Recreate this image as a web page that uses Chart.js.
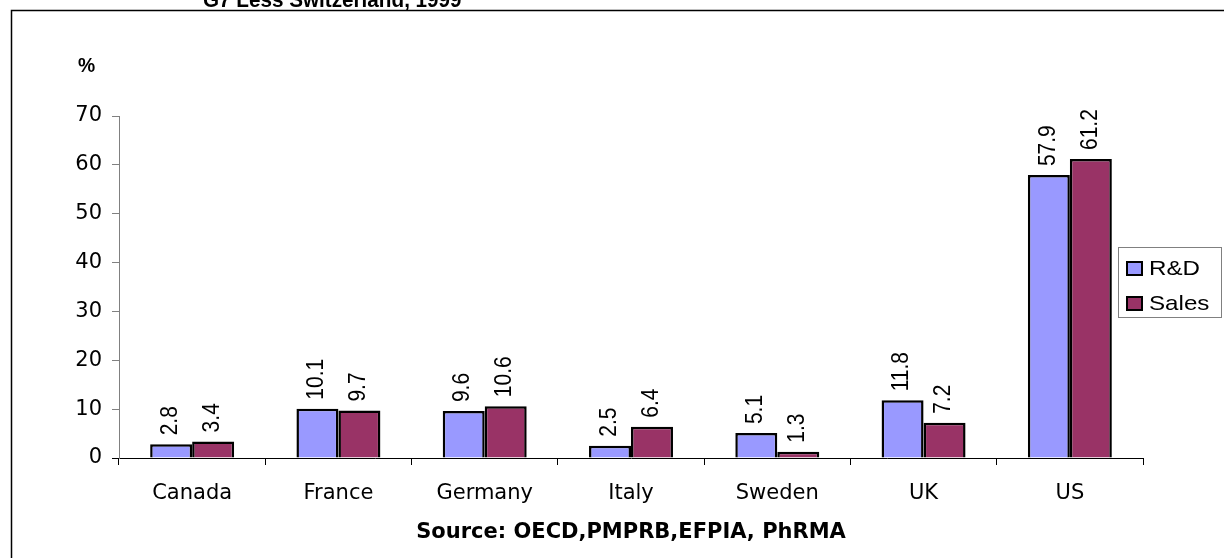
<!DOCTYPE html>
<html><head><meta charset="utf-8">
<script src="https://cdn.jsdelivr.net/npm/chart.js@4.4.0/dist/chart.umd.min.js"></script>
<style>html,body{margin:0;padding:0;background:#fff;overflow:hidden}#wrap{position:relative;width:1224px;height:558px}</style>
</head><body><div id="wrap"><canvas id="c" width="1224" height="558"></canvas></div>
<script>
const categories = ['Canada', 'France', 'Germany', 'Italy', 'Sweden', 'UK', 'US'];
const rdValues = [2.8, 10.1, 9.6, 2.5, 5.1, 11.8, 57.9];
const salesValues = [3.4, 9.7, 10.6, 6.4, 1.3, 7.2, 61.2];
const yTickValues = [0, 10, 20, 30, 40, 50, 60, 70];
const seriesNames = ['R&D', 'Sales'];
const seriesColors = ['#9999FF', '#993366'];
const titleText = 'G7 Less Switzerland, 1999';
const sourceText = 'Source: OECD,PMPRB,EFPIA, PhRMA';
const unitText = '%';

const SANS = '"Liberation Sans", Arial, sans-serif';
const WIDE = '"DejaVu Sans", "Liberation Sans", sans-serif';

function stretchedText(ctx, text, x, y, font, sx, align) {
  ctx.save();
  ctx.font = font;
  ctx.textAlign = align || 'left';
  ctx.textBaseline = 'alphabetic';
  ctx.translate(x, y);
  ctx.scale(sx, 1);
  ctx.fillText(text, 0, 0);
  ctx.restore();
}

const decorPlugin = {
  id: 'decor',
  afterDraw(chart) {
    const ctx = chart.ctx;
    ctx.save();
    ctx.strokeStyle = '#000';
    ctx.lineWidth = 1.5;
    ctx.beginPath();
    ctx.moveTo(11.5, 600);
    ctx.lineTo(11.5, 10.5);
    ctx.lineTo(1300, 10.5);
    ctx.stroke();
    ctx.fillStyle = '#000';
    stretchedText(ctx, titleText, 203, 7, 'bold 22px ' + SANS, 0.94);
    stretchedText(ctx, unitText, 78, 72, 'bold 21px ' + SANS, 0.92);
    ctx.restore();
  }
};

const valueLabelPlugin = {
  id: 'valueLabels',
  afterDatasetsDraw(chart) {
    const ctx = chart.ctx;
    chart.data.datasets.forEach((ds, di) => {
      const meta = chart.getDatasetMeta(di);
      meta.data.forEach((el, i) => {
        const v = ds.data[i];
        ctx.save();
        ctx.fillStyle = '#000';
        ctx.font = '21px ' + SANS;
        ctx.textAlign = 'left';
        ctx.textBaseline = 'middle';
        ctx.translate(el.x - 1, el.y - 9);
        ctx.scale(1.15, 1);
        ctx.rotate(-Math.PI / 2);
        ctx.fillText(v.toFixed(1), 0, 0);
        ctx.restore();
      });
    });
  }
};

const legendPlugin = {
  id: 'customLegend',
  afterDraw(chart) {
    const ctx = chart.ctx;
    ctx.save();
    ctx.strokeStyle = '#808080';
    ctx.lineWidth = 1;
    ctx.fillStyle = '#fff';
    ctx.fillRect(1118.5, 247.5, 103, 70);
    ctx.strokeRect(1118.5, 247.5, 103, 70);
    chart.data.datasets.forEach((ds, i) => {
      const base = 275 + i * 35;
      ctx.fillStyle = ds.backgroundColor;
      ctx.fillRect(1127, base - 13, 15, 13);
      ctx.strokeStyle = '#000';
      ctx.lineWidth = 2;
      ctx.strokeRect(1127, base - 13, 15, 13);
      ctx.fillStyle = '#000';
      stretchedText(ctx, ds.label, 1149, base, '21px ' + SANS, 1.15);
    });
    ctx.restore();
  }
};

new Chart(document.getElementById('c'), {
  type: 'bar',
  data: {
    labels: categories,
    datasets: [
      { label: seriesNames[0], data: rdValues, backgroundColor: seriesColors[0], borderColor: '#000', borderWidth: 2.5, borderSkipped: 'bottom' },
      { label: seriesNames[1], data: salesValues, backgroundColor: seriesColors[1], borderColor: '#000', borderWidth: 2.5, borderSkipped: 'bottom' }
    ]
  },
  options: {
    responsive: false,
    animation: false,
    devicePixelRatio: 1,
    layout: { padding: { left: 0, right: 81, top: 116, bottom: 0 } },
    datasets: { bar: { categoryPercentage: 0.574, barPercentage: 1.0 } },
    plugins: { legend: { display: false }, tooltip: { enabled: false }, title: { display: false } },
    scales: {
      x: {
        type: 'category',
        offset: true,
        afterFit(s) { s.height = 100; },
        grid: { display: true, offset: true, drawOnChartArea: false, drawTicks: true, tickLength: 7, color: '#000', lineWidth: 1 },
        border: { display: true, color: '#000', width: 1 },
        ticks: { color: '#000', font: { family: WIDE, size: 21 }, padding: 16, maxRotation: 0, autoSkip: false },
        title: { display: true, text: sourceText, color: '#000', font: { family: WIDE, size: 21, weight: 'bold' }, padding: { top: 0, bottom: 13 } }
      },
      y: {
        min: 0, max: 70,
        afterFit(s) { s.width = 119; },
        afterBuildTicks(s) { s.ticks = yTickValues.map(v => ({ value: v })); },
        grid: { display: true, drawOnChartArea: false, drawTicks: true, tickLength: 7, color: (c) => (c.tick && c.tick.value === 0 ? '#000' : '#808080'), lineWidth: 1 },
        border: { display: true, color: '#808080', width: 1 },
        ticks: { color: '#000', font: { family: WIDE, size: 21 }, padding: 10 }
      }
    }
  },
  plugins: [valueLabelPlugin, decorPlugin, legendPlugin]
});
</script>
</body></html>
